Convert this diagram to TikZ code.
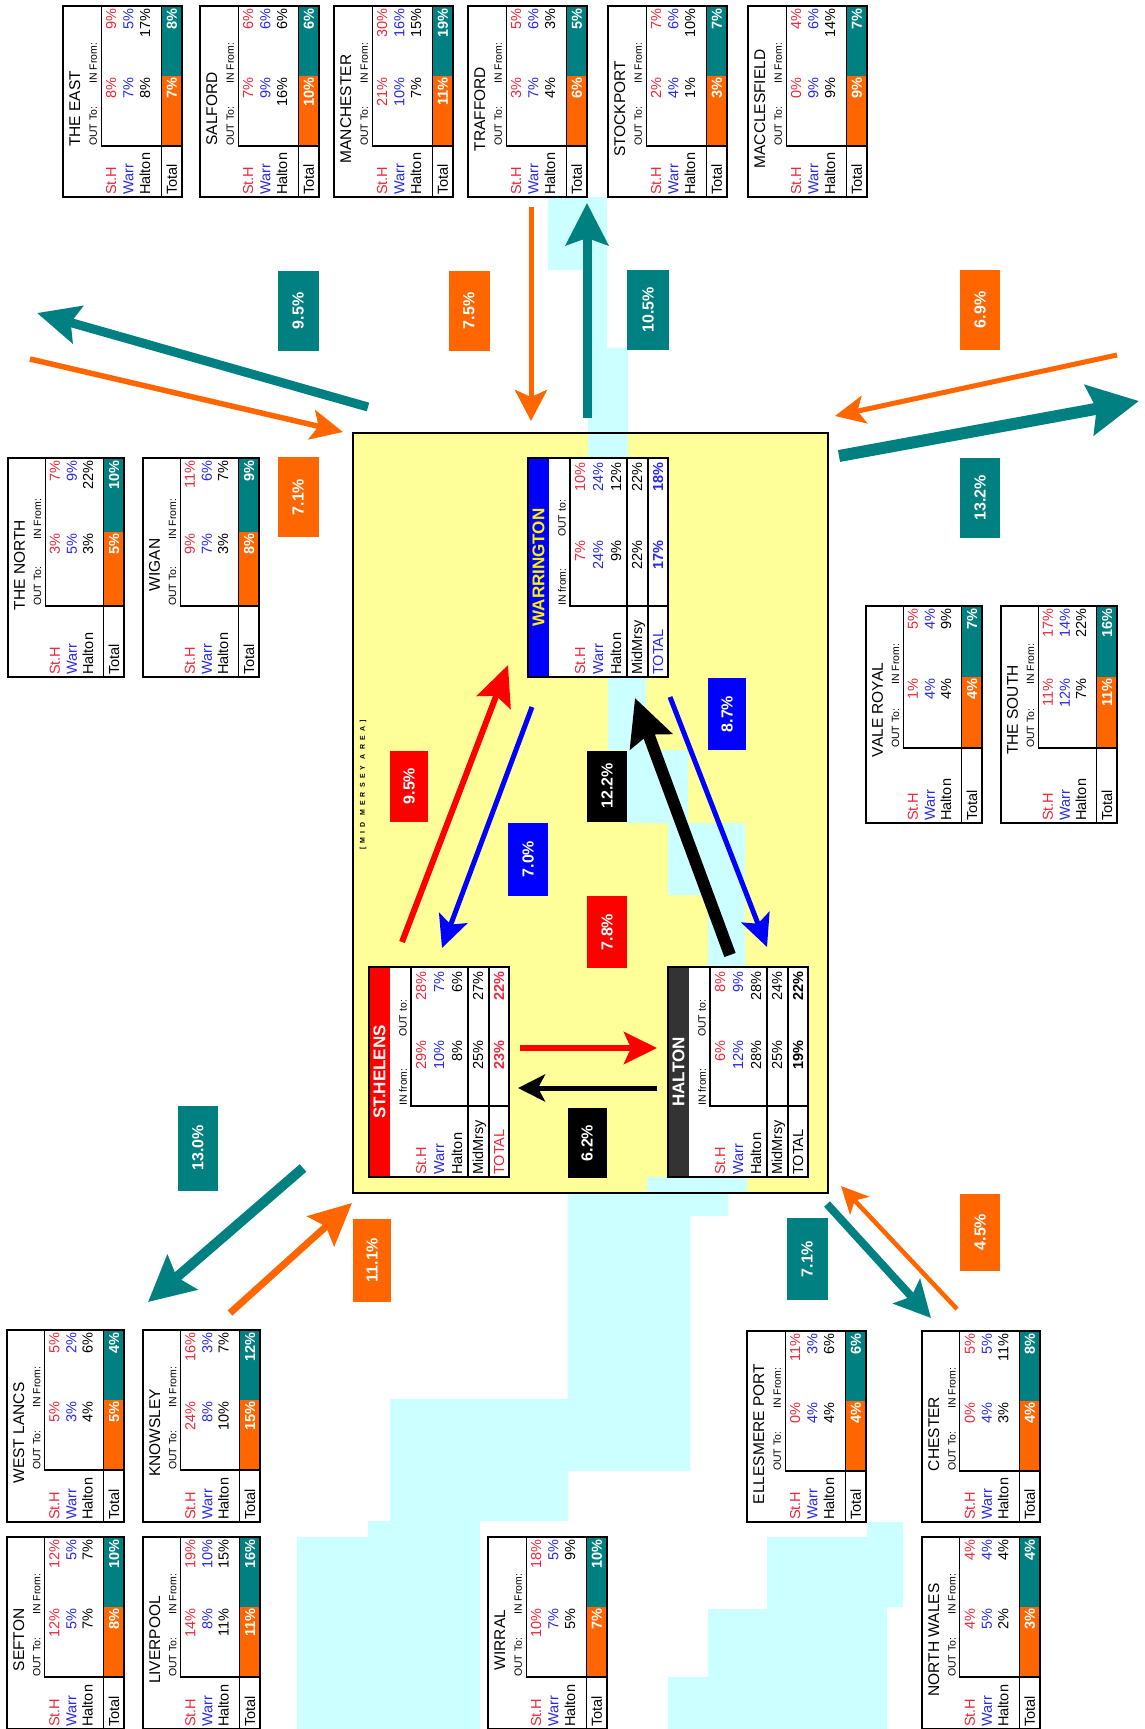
\documentclass[tikz,border=0pt]{standalone}
\usepackage{fontspec}
\setmainfont{Liberation Sans}
\usetikzlibrary{arrows.meta}
\definecolor{flowteal}{RGB}{0,128,128}
\definecolor{floworange}{RGB}{255,102,0}
\definecolor{river}{RGB}{204,255,255}
\definecolor{area}{RGB}{255,255,153}
\definecolor{sthred}{RGB}{235,40,60}
\definecolor{warrblue}{RGB}{40,40,230}
\definecolor{haltgrey}{RGB}{51,51,51}
\tikzset{
  txt/.style={rotate=90, inner sep=0pt, text height=10pt, text depth=0pt, font=\fontsize{14.5}{15}\selectfont},
  hdr/.style={rotate=90, inner sep=0pt, anchor=west, font=\fontsize{10.5}{11}\selectfont},
  boxtitle/.style={rotate=90, inner sep=0pt, font=\fontsize{15.5}{16}\selectfont},
  bandtitle/.style={rotate=90, inner sep=0pt, font=\bfseries\fontsize{17}{17}\selectfont},
  pct/.style={rotate=90, fill=#1, text=white, inner sep=0pt, font=\bfseries\fontsize{16}{16}\selectfont},
  flow/.style n args={4}{draw=#1, line width=#2, -{Stealth[length=#3, width=#4, inset=7pt]}},
}
\newcommand\areatable{%
  \pgfmathsetmacro\usplit{(\tlab+\tlen)/2}%
  \pgfmathsetmacro\ybot{\ty+\tlen}%
  \pgfmathsetmacro\ylab{\ybot-\tlab}%
  \pgfmathsetmacro\ysp{\ybot-\usplit}%
  \pgfmathsetmacro\xin{\tx+0.32*\tw}%
  \pgfmathsetmacro\xtot{\tx+0.825*\tw}%
  \pgfmathsetmacro\xend{\tx+\tw}%
  \fill[white] (\tx,\ty) rectangle (\xend,\ybot);
  \fill[floworange] (\xtot,\ylab) rectangle (\xend,\ysp);
  \fill[flowteal] (\xtot,\ysp) rectangle (\xend,\ty);
  \draw[line width=1.5pt] (\tx,\ty) rectangle (\xend,\ybot);
  \draw[line width=1.1pt] (\xin,\ty) -- (\xin,\ylab) -- (\xend,\ylab) (\xtot,\ty) -- (\xtot,\ybot);
  \node[boxtitle] (\tid-name) at ({\tx+0.1*\tw},{\ysp+33}) {\tname};
  \node[hdr] (\tid-out) at ({\tx+0.255*\tw},\ylab) {OUT To:};
  \node[hdr] (\tid-in) at ({\tx+0.255*\tw},{\ysp+8}) {IN From:};
  \foreach \rowlab/\rowcol/\vout/\vin/\rowpos [count=\rowno] in {St.H/sthred/\soa/\sob/0.405,Warr/warrblue/\woa/\wob/0.55,Halton/black/\hoa/\hob/0.69}{
    \node[txt, anchor=west, text=\rowcol] (\tid-l\rowno) at ({\tx+\rowpos*\tw},{\ybot-2}) {\rowlab};
    \node[txt, anchor=east, text=\rowcol] (\tid-o\rowno) at ({\tx+\rowpos*\tw},{\ysp+1}) {\vout\%};
    \node[txt, anchor=east, text=\rowcol] (\tid-i\rowno) at ({\tx+\rowpos*\tw},{\ty+2}) {\vin\%};
  }
  \node[txt, anchor=west] (\tid-lt) at ({\tx+0.915*\tw},{\ybot-2}) {Total};
  \node[txt, anchor=east, text=white, font=\bfseries\fontsize{14.5}{15}\selectfont] (\tid-ot) at ({\tx+0.915*\tw},{\ysp+1}) {\toa\%};
  \node[txt, anchor=east, text=white, font=\bfseries\fontsize{14.5}{15}\selectfont] (\tid-it) at ({\tx+0.915*\tw},{\ty+2}) {\tob\%};
}
\newcommand\hubtable[9]{%
  \pgfmathsetmacro\ybot{#3+#4}%
  \pgfmathsetmacro\ylab{\ybot-71}%
  \pgfmathsetmacro\ysp{\ybot-137}%
  \fill[white] (#2,#3) rectangle ++(140,#4);
  \fill[#5] (#2,#3) rectangle ++(21,#4);
  \draw[line width=1.5pt] (#2,#3) rectangle ++(140,#4);
  \draw[line width=1.1pt] ({#2+42},#3) -- ({#2+42},\ylab) -- ({#2+140},\ylab)
    ({#2+99},#3) -- ({#2+99},\ybot) ({#2+120},#3) -- ({#2+120},\ybot);
  \node[bandtitle, text=#6] (#1-name) at ({#2+10.5},{#3+#4/2}) {#8};
  \node[hdr] (#1-in) at ({#2+34},\ylab) {IN from:};
  \node[hdr] (#1-out) at ({#2+34},{\ysp-3}) {OUT to:};
  \foreach \vin/\vout [count=\rowno] in {#9}{
    \ifcase\rowno\or\def\rowlab{St.H}\def\rowcol{sthred}\def\rowpos{52}\def\rowfont{}%
    \or\def\rowlab{Warr}\def\rowcol{warrblue}\def\rowpos{70}\def\rowfont{}%
    \or\def\rowlab{Halton}\def\rowcol{black}\def\rowpos{88}\def\rowfont{}%
    \or\def\rowlab{MidMrsy}\def\rowcol{black}\def\rowpos{109}\def\rowfont{}%
    \or\def\rowlab{TOTAL}\def\rowcol{#7}\def\rowpos{130}\def\rowfont{\bfseries}\fi
    \node[txt, anchor=west, text=\rowcol] (#1-l\rowno) at ({#2+\rowpos},{\ybot-2}) {\rowlab};
    \node[txt, anchor=east, text=\rowcol] (#1-i\rowno) at ({#2+\rowpos},\ysp) {\rowfont\vin\%};
    \node[txt, anchor=east, text=\rowcol] (#1-o\rowno) at ({#2+\rowpos},{#3+4}) {\rowfont\vout\%};
  }
}
\begin{document}
\begin{tikzpicture}[x=1pt,y=-1pt]%Mid Mersey flows
\path[use as bounding box, fill=white] (0,0) rectangle (1144,1729);
\fill[area] (353,433) rectangle (828,1193);
\fill[river] (548,197) -- (607,197) -- (607,348) -- (628,348) -- (628,677) -- (646,677)
  -- (646,750) -- (688,750) -- (688,823) -- (745,823) -- (745,967) -- (747,1177)
  -- (747,1193) -- (728,1193) -- (728,1216) -- (690,1216) -- (690,1471) -- (568,1471)
  -- (568,1521) -- (480,1521) -- (480,1729) -- (297,1729) -- (297,1537) -- (368,1537)
  -- (368,1521) -- (390,1521) -- (390,1399) -- (568,1399) -- (568,1193) -- (647,1193)
  -- (647,1177) -- (668,1177) -- (668,967) -- (708,967) -- (708,895) -- (668,895)
  -- (668,823) -- (627,823) -- (627,750) -- (608,750) -- (608,677) -- (588,677)
  -- (588,270) -- (548,270) -- cycle;
\fill[river] (867,1522) -- (903,1522) -- (903,1607) -- (887,1607) -- (887,1729) -- (668,1729)
  -- (668,1677) -- (708,1677) -- (708,1609) -- (767,1609) -- (767,1537) -- (867,1537) -- cycle;
\draw[line width=1.3pt] (353,433) rectangle (828,1193);
\node[rotate=90, inner sep=0pt, font=\bfseries\fontsize{7}{7}\selectfont\addfontfeatures{LetterSpace=60}] (mma) at (363,785) {[MID MERSEY AREA]};
\foreach \tid/\tx/\ty/\tw/\tlen/\tlab/\tname/\soa/\sob/\woa/\wob/\hoa/\hob/\toa/\tob in {
  east/63/6/119/191/51/THE EAST/8/9/7/5/8/17/7/8,
  salford/200/6/119/191/51/SALFORD/7/6/9/6/16/6/10/6,
  manchester/334/6/119/191/51/MANCHESTER/21/30/10/16/7/15/11/19,
  trafford/468/6/119/191/51/TRAFFORD/3/5/7/6/4/3/6/5,
  stockport/608/6/119/191/51/STOCKPORT/2/7/4/6/1/10/3/7,
  macclesfield/748/6/119/191/51/MACCLESFIELD/0/4/9/6/9/14/9/7,
  north/8/458/116/219/71/THE NORTH/3/7/5/9/3/22/5/10,
  wigan/143/458/116/219/71/WIGAN/9/11/7/6/3/7/8/9,
  valeroyal/866/606/116/217/75/VALE ROYAL/1/5/4/4/4/9/4/7,
  south/1001/606/116/217/75/THE SOUTH/11/17/12/14/7/22/11/16,
  westlancs/7/1330/117/192/52/WEST LANCS/5/5/3/2/4/6/5/4,
  knowsley/143/1330/117/192/52/KNOWSLEY/24/16/8/3/10/7/15/12,
  sefton/7/1537/117/192/52/SEFTON/12/12/5/5/7/7/8/10,
  liverpool/143/1537/117/192/52/LIVERPOOL/14/19/8/10/11/15/11/16,
  wirral/488/1537/119/192/52/WIRRAL/10/18/7/5/5/9/7/10,
  ellesmere/747/1331/119/191/51/ELLESMERE PORT/0/11/4/3/4/6/4/6,
  chester/922/1331/118/191/51/CHESTER/0/5/4/5/3/11/4/8,
  northwales/922/1537/118/192/52/NORTH WALES/4/4/5/4/2/4/3/4}{\areatable}
\hubtable{warr}{528}{458}{219}{blue}{yellow}{warrblue}{WARRINGTON}{7/10,24/24,9/12,22/22,17/18}
\hubtable{sth}{369}{967}{210}{red}{white}{sthred}{ST.HELENS}{29/28,10/7,8/6,25/27,23/22}
\hubtable{hal}{668}{967}{210}{haltgrey}{white}{black}{HALTON}{6/8,12/9,28/28,25/24,19/22}
\coordinate (nw1) at (368,407); \coordinate (nw2) at (37,313);
\coordinate (nw3) at (30,359); \coordinate (nw4) at (343,432);
\coordinate (n1) at (531,207); \coordinate (n2) at (531,421);
\coordinate (n3) at (587,418); \coordinate (n4) at (587,203);
\coordinate (e1) at (1117,355); \coordinate (e2) at (835,416);
\coordinate (e3) at (839,456); \coordinate (e4) at (1139,401);
\coordinate (sw1) at (303,1168); \coordinate (sw2) at (148,1302);
\coordinate (sw3) at (230,1313); \coordinate (sw4) at (352,1203);
\coordinate (se1) at (827,1204); \coordinate (se2) at (931,1318);
\coordinate (se3) at (957,1309); \coordinate (se4) at (841,1186);
\coordinate (sw5) at (402,942); \coordinate (wa1) at (508,665);
\coordinate (wa2) at (532,707); \coordinate (sw6) at (442,948);
\coordinate (ha1) at (730,955); \coordinate (wa3) at (635,698);
\coordinate (wa4) at (670,697); \coordinate (ha2) at (767,947);
\coordinate (sw7) at (520,1048); \coordinate (ha3) at (657,1048);
\coordinate (ha4) at (657,1088); \coordinate (sw8) at (518,1088);
\draw[flow={flowteal}{9pt}{42pt}{38pt}] (nw1) -- (nw2);
\draw[flow={floworange}{5.5pt}{32pt}{30pt}] (nw3) -- (nw4);
\draw[flow={floworange}{5pt}{31pt}{32pt}] (n1) -- (n2);
\draw[flow={flowteal}{9pt}{42pt}{42pt}] (n3) -- (n4);
\draw[flow={floworange}{5pt}{30pt}{28pt}] (e1) -- (e2);
\draw[flow={flowteal}{12pt}{50pt}{50pt}] (e3) -- (e4);
\draw[flow={flowteal}{10pt}{45pt}{45pt}] (sw1) -- (sw2);
\draw[flow={floworange}{7pt}{42pt}{40pt}] (sw3) -- (sw4);
\draw[flow={flowteal}{8pt}{36pt}{36pt}] (se1) -- (se2);
\draw[flow={floworange}{4.5pt}{27pt}{26pt}] (se3) -- (se4);
\draw[flow={red}{6pt}{40pt}{36pt}] (sw5) -- (wa1);
\draw[flow={blue}{5pt}{32pt}{30pt}] (wa2) -- (sw6);
\draw[flow={black}{12pt}{46pt}{44pt}] (ha1) -- (wa3);
\draw[flow={blue}{5pt}{32pt}{30pt}] (wa4) -- (ha2);
\draw[flow={red}{6pt}{33pt}{32pt}] (sw7) -- (ha3);
\draw[flow={black}{5pt}{27pt}{27pt}] (ha4) -- (sw8);
\foreach \pname/\px/\py/\pcol/\pw/\ph/\pval in {
  p1/298/311/flowteal/41pt/80pt/9.5, p2/469/311/floworange/41pt/80pt/7.5,
  p3/648/310/flowteal/42pt/80pt/10.5, p4/980/310/floworange/40pt/80pt/6.9,
  p5/298/497/floworange/41pt/80pt/7.1, p6/980/498/flowteal/40pt/80pt/13.2,
  p7/409/786/red/38pt/71pt/9.5, p8/528/859/blue/40pt/73pt/7.0,
  p9/607/786/black/40pt/71pt/12.2, p10/727/714/blue/38pt/72pt/8.7,
  p11/607/932/red/40pt/72pt/7.8, p12/587/1143/black/39pt/70pt/6.2,
  p13/198/1148/flowteal/40pt/85pt/13.0, p14/372/1260/floworange/38pt/83pt/11.1,
  p15/807/1259/flowteal/41pt/82pt/7.1, p16/980/1232/floworange/40pt/77pt/4.5}
  {\node[pct=\pcol, minimum width=\ph, minimum height=\pw] (\pname) at (\px,\py) {\pval\%};}
\end{tikzpicture}
\end{document}
